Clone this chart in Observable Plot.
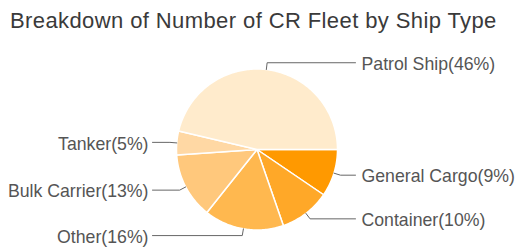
<!DOCTYPE html>
<html>
<head>
<meta charset="utf-8">
<script src="https://cdn.jsdelivr.net/npm/d3@7"></script>
<script src="https://cdn.jsdelivr.net/npm/@observablehq/plot@0.6"></script>
<style>
  html, body { margin: 0; padding: 0; background: #fff; }
  #title { font-family: "Liberation Sans", Arial, sans-serif; font-size: 22px; line-height: 24px; letter-spacing: 0.4px;
           color: #3a3a3a; padding: 9px 0 0 10px; height: 24px; white-space: nowrap; }
  #chart svg { display: block; }
</style>
</head>
<body>
<div id="title">Breakdown of Number of CR Fleet by Ship Type</div>
<div id="chart"></div>
<script>
// Data (clockwise from 3 o'clock)
const names = ["General Cargo", "Container", "Other", "Bulk Carrier", "Tanker", "Patrol Ship"];
const values = [9.5, 10.2, 16.0, 13.2, 4.8, 46.3];
const pctLabels = ["9%", "10%", "16%", "13%", "5%", "46%"];
const colors = ["#ff9900", "#ffa828", "#ffb84f", "#ffc87c", "#ffd8a4", "#ffebcc"];

const W = 519, H = 214;
const cx = 256.5, cy = 116, R = 80.5;
const total = d3.sum(values);

const slicePts = [];
const leaderPts = [];
const labels = [];
let acc = 0;
names.forEach((n, i) => {
  const a0 = acc / total * 2 * Math.PI;
  acc += values[i];
  const a1 = acc / total * 2 * Math.PI;
  slicePts.push({name: n, x: 0, y: 0});
  const steps = Math.max(2, Math.ceil((a1 - a0) / (Math.PI / 180)));
  for (let k = 0; k <= steps; k++) {
    const t = a0 + (a1 - a0) * k / steps;
    slicePts.push({name: n, x: Math.cos(t), y: Math.sin(t)});
  }
  const mid = (a0 + a1) / 2;
  const right = Math.cos(mid) > 0;
  const ax = Math.cos(mid), ay = Math.sin(mid);
  const bx = ax * 1.085, by = ay * 1.085;
  const ex = right ? (355 - cx) / R : (152 - cx) / R;
  leaderPts.push({name: n, x: ax, y: ay}, {name: n, x: bx, y: by}, {name: n, x: ex, y: by});
  labels.push({
    text: `${n}(${pctLabels[i]})`,
    x: right ? (361 - cx) / R : (148 - cx) / R,
    y: by,
    anchor: right ? "start" : "end"
  });
});

const chart = Plot.plot({
  width: W,
  height: H,
  margin: 0,
  x: {domain: [-cx / R, (W - cx) / R], range: [0, W], axis: null},
  y: {domain: [-cy / R, (H - cy) / R], range: [0, H], axis: null},
  color: {domain: names, range: colors},
  style: {fontFamily: '"Liberation Sans", Arial, sans-serif', background: "#fff"},
  marks: [
    Plot.line(slicePts, {x: "x", y: "y", z: "name", fill: "name", stroke: "#fff", strokeWidth: 1.5, curve: "linear-closed"}),
    Plot.line(leaderPts, {x: "x", y: "y", z: "name", stroke: "#666", strokeWidth: 1}),
    Plot.text(labels.filter(d => d.anchor === "start"), {x: "x", y: "y", text: "text", textAnchor: "start", fontSize: 17.7, fill: "#555", dy: 1.5}),
    Plot.text(labels.filter(d => d.anchor === "end"), {x: "x", y: "y", text: "text", textAnchor: "end", fontSize: 17.7, fill: "#555", dy: 1.5})
  ]
});
document.getElementById("chart").appendChild(chart);
</script>
</body>
</html>
